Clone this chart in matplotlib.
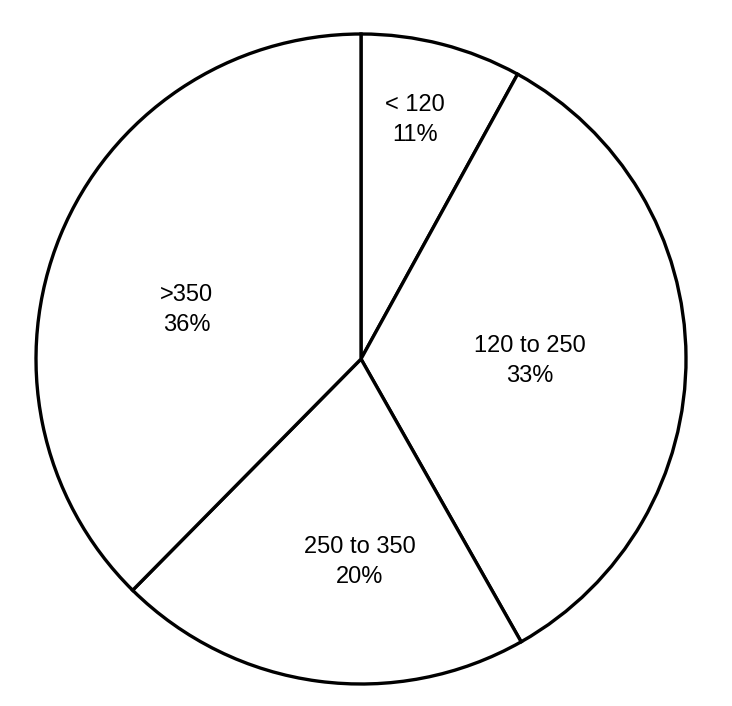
"""
Pie chart of value bands (black outline on white)
"""

import matplotlib
matplotlib.use('Agg')
import matplotlib.pyplot as plt

categories = ['< 120', '120 to 250', '250 to 350', '>350']
# slice sizes as drawn in the picture
sizes = [8.0, 33.8, 20.6, 37.6]
# percentages as printed on the labels
pct_labels = ['11%', '33%', '20%', '36%']

# label centres in axes data units (pie radius = 1)
label_pos = [(0.166, 0.735), (0.52, -0.006), (-0.005, -0.625), (-0.536, 0.151)]

W, H = 732, 706
cx, cy, r = 361, 359, 325

fig = plt.figure(figsize=(W / 100, H / 100), dpi=100)
ax = fig.add_axes([(cx - r) / W, (H - cy - r) / H, 2 * r / W, 2 * r / H])

ax.pie(sizes, startangle=90, counterclock=False, radius=1,
       wedgeprops=dict(facecolor='white', edgecolor='black', linewidth=2.4))
ax.set_xlim(-1, 1)
ax.set_ylim(-1, 1)
ax.axis('off')

for cat, pct, (x, y) in zip(categories, pct_labels, label_pos):
    ax.text(x, y, f'{cat}\n{pct}', ha='center', va='center',
            fontsize=17, family='Liberation Sans', linespacing=1.45)

plt.savefig('out.png', dpi=100, facecolor='white')
plt.close()
